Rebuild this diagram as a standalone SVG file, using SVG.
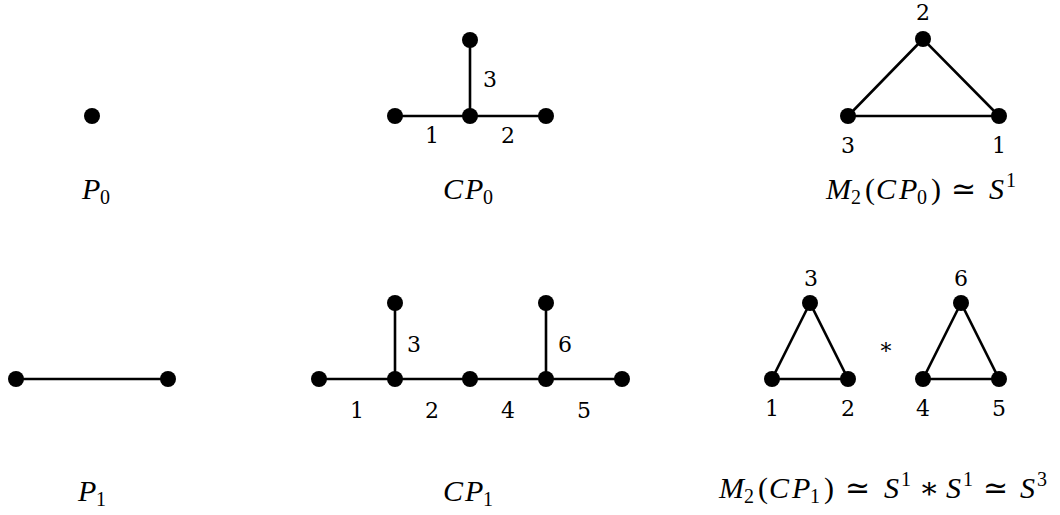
<svg xmlns="http://www.w3.org/2000/svg" width="1060" height="515" viewBox="0 0 1060 515">
<style>
.e{stroke:#000;stroke-width:2.6;fill:none}
.n{fill:#000}
.t{font-family:"DejaVu Serif",serif;font-size:22px;fill:#000;text-anchor:middle}
.m{font-family:"Liberation Serif","Times New Roman","DejaVu Serif",serif;font-size:30px;fill:#000}
.i{font-style:italic}
.s{font-size:20px;font-style:normal}
</style>
<rect width="1060" height="515" fill="#fff"/>
<g id="connectors">
<line class="e" x1="395" y1="116" x2="546" y2="116"/>
<line class="e" x1="470" y1="116" x2="470" y2="40"/>
<polygon class="e" points="923,39 848,116 999,116"/>
<line class="e" x1="16" y1="379" x2="168" y2="379"/>
<line class="e" x1="319" y1="379" x2="622" y2="379"/>
<line class="e" x1="395" y1="379" x2="395" y2="303"/>
<line class="e" x1="546" y1="379" x2="546" y2="303"/>
<polygon class="e" points="810,303 772,379 848,379"/>
<polygon class="e" points="961,303 923,379 999,379"/>
</g>
<g id="P0">
<circle class="n" cx="92" cy="116" r="8"/>
<text class="m" y="199"><tspan class="i" x="82">P</tspan><tspan class="s" x="100" y="204">0</tspan></text>
</g>
<g id="CP0">
<circle class="n" cx="395" cy="116" r="8"/>
<circle class="n" cx="470" cy="116" r="8"/>
<circle class="n" cx="546" cy="116" r="8"/>
<circle class="n" cx="470" cy="40" r="8"/>
<text class="t" x="490" y="87">3</text>
<text class="t" x="432" y="143">1</text>
<text class="t" x="508" y="143">2</text>
<text class="m" y="199"><tspan class="i" x="443">C</tspan><tspan class="i" x="465">P</tspan><tspan class="s" x="483" y="204">0</tspan></text>
</g>
<g id="M2CP0">
<circle class="n" cx="923" cy="39" r="8"/>
<circle class="n" cx="848" cy="116" r="8"/>
<circle class="n" cx="999" cy="116" r="8"/>
<text class="t" x="923" y="20">2</text>
<text class="t" x="848" y="153">3</text>
<text class="t" x="999" y="153">1</text>
<text class="m" y="199"><tspan class="i" x="826">M</tspan><tspan class="s" x="851" y="204">2</tspan><tspan x="865" y="199">(</tspan><tspan class="i" x="876">C</tspan><tspan class="i" x="899">P</tspan><tspan class="s" x="917" y="204">0</tspan><tspan x="931" y="199">)</tspan><tspan x="951">≃</tspan><tspan class="i" x="989">S</tspan><tspan class="s" x="1006" y="187">1</tspan></text>
</g>
<g id="P1">
<circle class="n" cx="16" cy="379" r="8"/>
<circle class="n" cx="168" cy="379" r="8"/>
<text class="m" y="501"><tspan class="i" x="78">P</tspan><tspan class="s" x="96" y="506">1</tspan></text>
</g>
<g id="CP1">
<circle class="n" cx="319" cy="379" r="8"/>
<circle class="n" cx="395" cy="379" r="8"/>
<circle class="n" cx="470" cy="379" r="8"/>
<circle class="n" cx="546" cy="379" r="8"/>
<circle class="n" cx="622" cy="379" r="8"/>
<circle class="n" cx="395" cy="303" r="8"/>
<circle class="n" cx="546" cy="303" r="8"/>
<text class="t" x="414" y="352">3</text>
<text class="t" x="565" y="352">6</text>
<text class="t" x="357" y="418">1</text>
<text class="t" x="432" y="418">2</text>
<text class="t" x="508" y="418">4</text>
<text class="t" x="584" y="418">5</text>
<text class="m" y="501"><tspan class="i" x="443">C</tspan><tspan class="i" x="465">P</tspan><tspan class="s" x="483" y="506">1</tspan></text>
</g>
<g id="M2CP1">
<circle class="n" cx="810" cy="303" r="8"/>
<circle class="n" cx="772" cy="379" r="8"/>
<circle class="n" cx="848" cy="379" r="8"/>
<circle class="n" cx="961" cy="303" r="8"/>
<circle class="n" cx="923" cy="379" r="8"/>
<circle class="n" cx="999" cy="379" r="8"/>
<text class="t" x="811" y="286">3</text>
<text class="t" x="961" y="286">6</text>
<text class="t" x="772" y="416">1</text>
<text class="t" x="848" y="416">2</text>
<text class="t" x="923" y="416">4</text>
<text class="t" x="999" y="416">5</text>
<text class="t" x="886" y="354">∗</text>
<text class="m" y="498"><tspan class="i" x="719">M</tspan><tspan class="s" x="744" y="503">2</tspan><tspan x="758" y="498">(</tspan><tspan class="i" x="769">C</tspan><tspan class="i" x="792">P</tspan><tspan class="s" x="810" y="503">1</tspan><tspan x="824" y="498">)</tspan><tspan x="845">≃</tspan><tspan class="i" x="884">S</tspan><tspan class="s" x="901" y="486">1</tspan><tspan x="919" y="498">∗</tspan><tspan class="i" x="946">S</tspan><tspan class="s" x="963" y="486">1</tspan><tspan x="983" y="498">≃</tspan><tspan class="i" x="1020">S</tspan><tspan class="s" x="1037" y="486">3</tspan></text>
</g>
</svg>
